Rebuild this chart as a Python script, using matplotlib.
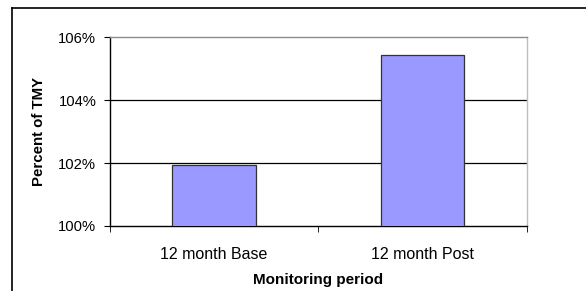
import matplotlib
matplotlib.use("Agg")
import matplotlib.pyplot as plt
from matplotlib.lines import Line2D
from matplotlib.ticker import FixedLocator
import numpy as np

plt.rcParams['font.family'] = ['Liberation Sans', 'DejaVu Sans']

# data
periods = ["12 month Base", "12 month Post"]
percent_tmy = [101.94, 105.44]
y_ticks = [100, 102, 104, 106]
y_tick_labels = ["100%", "102%", "104%", "106%"]

fig = plt.figure(figsize=(5.86, 2.91), dpi=100)
ax = fig.add_axes([0.1869, 0.2234, 0.7124, 0.6484])

# outer frame (left and top edges visible only)
fig.add_artist(Line2D([0.0213, 0.0213], [0.0, 0.9708], color="black", lw=1.2))
fig.add_artist(Line2D([0.0213, 1.0], [0.9708, 0.9708], color="black", lw=1.2))

x = np.arange(len(periods))
ax.bar(x, percent_tmy, width=0.40, bottom=0, color="#9999FF",
       edgecolor="#333333", linewidth=0.9, zorder=3)

ax.set_xlim(-0.5, len(periods) - 0.5)
ax.set_ylim(100, 106)
ax.set_yticks(y_ticks)
ax.set_yticklabels(y_tick_labels, fontsize=10.6)
ax.set_xticks(x)
ax.set_xticklabels(periods, fontsize=11.5)
ax.tick_params(axis='x', which='major', length=0, pad=15)
ax.xaxis.set_minor_locator(FixedLocator([-0.5, 0.5, 1.5]))
ax.tick_params(axis='x', which='minor', length=4, direction='out', color="black")
ax.tick_params(axis='y', length=4.5, direction='out', pad=5)

for yv in [102, 104]:
    ax.axhline(yv, color="black", lw=0.9, zorder=1)

ax.spines['left'].set_color("black")
ax.spines['bottom'].set_color("black")
ax.spines['top'].set_color("#8c8c8c")
ax.spines['right'].set_color("#bdbdbd")
for s in ax.spines.values():
    s.set_linewidth(1.0)

ax.set_ylabel("Percent of TMY", fontsize=10.8, fontweight='bold', labelpad=8.5)
ax.set_xlabel("Monitoring period", fontsize=11, fontweight='bold', labelpad=8)

fig.savefig("out.png", dpi=100)
